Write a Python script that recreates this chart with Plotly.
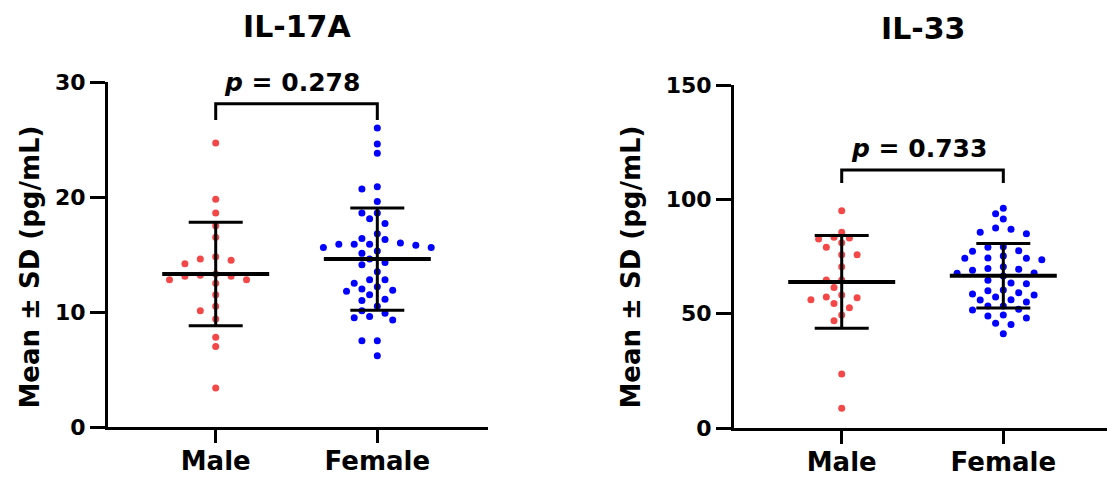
import numpy as np
import plotly.graph_objects as go

# ---------------- data ----------------
groups = ["Male", "Female"]
titles = ["IL-17A", "IL-33"]

il17a_male = [24.7, 19.8, 18.6, 17.5, 16.5, 14.6, 14.8, 14.2, 14.5, 13.1, 12.8, 13.3,
              13.1, 13.2, 12.5, 12.8, 11.5, 10.1, 10.5, 9.4, 7.8, 7.0, 3.4]
il17a_female = [26.0, 24.6, 23.8, 20.7, 20.9, 19.6, 18.6, 18.6, 18.1, 17.7, 16.8, 16.4,
                16.0, 15.9, 15.9, 16.3, 15.9, 15.6, 15.6, 15.8, 15.3, 15.1, 14.6, 14.3,
                14.1, 13.5, 12.8, 12.8, 12.5, 12.2, 11.9, 11.8, 12.0, 11.5, 11.1, 11.0,
                10.5, 10.1, 9.9, 9.6, 9.3, 9.5, 7.5, 7.5, 6.2]
il33_male = [95.0, 85.6, 83.4, 82.7, 83.1, 81.0, 79.0, 75.8, 75.8, 70.5, 64.7, 64.7,
             61.4, 56.1, 57.3, 58.2, 57.0, 52.6, 54.5, 49.4, 46.9, 23.6, 8.6]
il33_female = [96.1, 93.7, 91.4, 86.9, 85.0, 85.6, 87.5, 79.0, 79.3, 77.5, 77.3, 75.2,
               74.2, 73.6, 74.2, 74.3, 69.7, 69.0, 69.4, 70.5, 67.7, 67.8, 66.5, 64.6,
               63.1, 63.4, 60.0, 60.4, 58.6, 57.3, 58.2, 59.2, 56.1, 56.0, 55.1, 53.4,
               53.4, 51.9, 51.6, 49.4, 48.1, 49.0, 45.3, 45.8, 41.2]

il17a_mean = [13.3, 14.6]
il17a_sd = [4.5, 4.45]
il33_mean = [63.9, 66.6]
il33_sd = [20.3, 14.1]

p_values = ["0.278", "0.733"]
bracket_top = [28.1, 112.8]
bracket_bottom = [26.7, 107.1]

y_ticks = [[0, 10, 20, 30], [0, 50, 100, 150]]
y_max = [30, 150]

# ---------------- layout constants (pixels) ----------------
W, H = 1107, 479
x_dom_px = [(108, 488), (734, 1107)]
y_dom_px = [(427, 82), (428, 85)]  # (bottom, top) from top of page
cat_px = 161.6
x_left = -0.6665
RED = "#F44848"
BLUE = "#0000FF"
FONT = "DejaVu Sans"


def swarm(values, px_per_unit, px_per_cat, step_px=7.7, d=9.0):
    vals = np.asarray(values, dtype=float)
    order = np.argsort(-vals, kind="stable")
    placed = []
    offsets = np.zeros(len(vals))
    cand = [0]
    for k in range(1, 30):
        cand += [-k, k]
    for i in order:
        y = vals[i] * px_per_unit
        x = 0.0
        for k in cand:
            x = k * step_px
            if all((x - px) ** 2 + (y - py) ** 2 >= d * d for px, py in placed):
                break
        placed.append((x, y))
        offsets[i] = x / px_per_cat
    return offsets


panels = [
    ([il17a_male, il17a_female], il17a_mean, il17a_sd),
    ([il33_male, il33_female], il33_mean, il33_sd),
]

fig = go.Figure()
layout_axes = {}
annotations = []

for p, (data, means, sds) in enumerate(panels):
    xa = "x" if p == 0 else "x2"
    ya = "y" if p == 0 else "y2"
    ybot, ytop = y_dom_px[p]
    px_per_unit = (ybot - ytop) / y_max[p]
    colors = [RED, BLUE]
    for g, vals in enumerate(data):
        offs = swarm(vals, px_per_unit, cat_px)
        fig.add_trace(go.Scatter(
            x=g + offs, y=vals, mode="markers", xaxis=xa, yaxis=ya,
            marker=dict(size=7, color=colors[g], line=dict(width=0)),
            showlegend=False, hoverinfo="y"))
    for g in range(2):
        fig.add_trace(go.Scatter(
            x=[g - 0.331, g + 0.331], y=[means[g], means[g]], mode="lines",
            xaxis=xa, yaxis=ya, line=dict(color="black", width=4),
            showlegend=False, hoverinfo="skip"))
        fig.add_trace(go.Scatter(
            x=[g], y=[means[g]], mode="markers", xaxis=xa, yaxis=ya,
            marker=dict(size=1, color="rgba(0,0,0,0)"),
            error_y=dict(type="data", array=[sds[g]], visible=True,
                         color="black", thickness=3, width=27),
            showlegend=False, hoverinfo="skip"))
    # bracket
    fig.add_trace(go.Scatter(
        x=[0, 0, 1, 1],
        y=[bracket_bottom[p], bracket_top[p], bracket_top[p], bracket_bottom[p]],
        mode="lines", xaxis=xa, yaxis=ya, cliponaxis=False,
        line=dict(color="black", width=3), showlegend=False, hoverinfo="skip"))

    x0, x1 = x_dom_px[p]
    span = (x1 - x0) / cat_px
    suffix = "" if p == 0 else "2"
    layout_axes["xaxis" + suffix] = dict(
        domain=[x0 / W, x1 / W], range=[x_left, x_left + span],
        anchor=ya, tickvals=[0, 1], ticktext=groups, automargin=False,
        showline=True, linecolor="black", linewidth=3,
        ticks="outside", ticklen=13, tickwidth=3, tickcolor="black",
        ticklabelstandoff=-4,
        tickfont=dict(family=FONT, size=26, color="black", weight="bold"),
        showgrid=False, zeroline=False, fixedrange=True)
    layout_axes["yaxis" + suffix] = dict(
        domain=[(H - ybot) / H, (H - ytop) / H], range=[0, y_max[p]],
        anchor=xa, tickvals=y_ticks[p], automargin=False,
        showline=True, linecolor="black", linewidth=3,
        ticks="outside", ticklen=15, tickwidth=3, tickcolor="black",
        tickfont=dict(family=FONT, size=22, color="black", weight="bold"),
        showgrid=False, zeroline=False, fixedrange=True)

# titles, p-values, y titles
title_pos = [(297, 26), (923, 29)]
p_pos = [(292, 83), (919, 149)]
ytitle_x = [29, 630]
for p in range(2):
    annotations.append(dict(
        text="<b>%s</b>" % titles[p], x=title_pos[p][0] / W, y=1 - title_pos[p][1] / H,
        xref="paper", yref="paper", xanchor="center", yanchor="middle",
        showarrow=False, font=dict(family=FONT, size=30, color="black")))
    annotations.append(dict(
        text="<b><i>p</i> = %s</b>" % p_values[p], x=p_pos[p][0] / W, y=1 - p_pos[p][1] / H,
        xref="paper", yref="paper", xanchor="center", yanchor="middle",
        showarrow=False, font=dict(family=FONT, size=25, color="black")))
    annotations.append(dict(
        text="<b>Mean ± SD (pg/mL)</b>", x=ytitle_x[p] / W, y=1 - 267.5 / H,
        xref="paper", yref="paper", xanchor="center", yanchor="middle",
        textangle=-90, showarrow=False,
        font=dict(family=FONT, size=26, color="black")))

fig.update_layout(
    width=W, height=H, margin=dict(l=0, r=0, t=0, b=0),
    paper_bgcolor="white", plot_bgcolor="white",
    annotations=annotations, showlegend=False, **layout_axes)

fig.write_html("out.html", config={"displayModeBar": False})
